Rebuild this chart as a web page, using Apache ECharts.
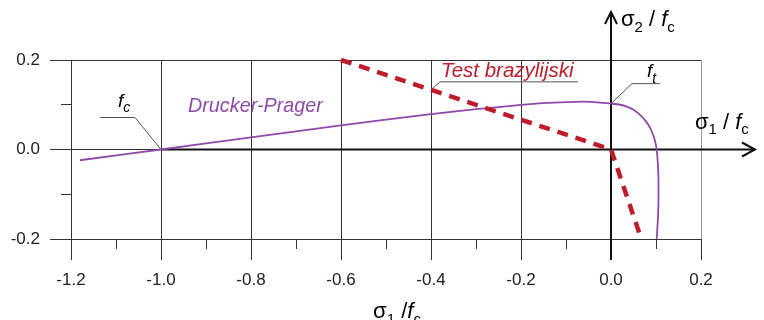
<!DOCTYPE html>
<html>
<head>
<meta charset="utf-8">
<script src="https://cdn.jsdelivr.net/npm/echarts@6/dist/echarts.min.js"></script>
<style>
  html, body { margin: 0; padding: 0; background: #fff; }
  #chart { width: 764px; height: 320px; }
</style>
</head>
<body>
<div id="chart"></div>
<script>
// Drucker–Prager failure envelope (σ1/fc, σ2/fc)
const dpSigma1 = [-1.18, -1.0, -0.8, -0.6, -0.4, -0.3, -0.2, -0.15, -0.1, -0.06, -0.03, 0.0,
                  0.02, 0.035, 0.05, 0.064, 0.076, 0.086, 0.093, 0.098, 0.1015,
                  0.104, 0.1055, 0.1055, 0.1045, 0.1015];
const dpSigma2 = [-0.024, 0.0, 0.027, 0.054, 0.079, 0.090, 0.0995, 0.1035, 0.106, 0.1068, 0.1055, 0.1025,
                  0.1, 0.096, 0.089, 0.078, 0.065, 0.05, 0.034, 0.018, 0.0,
                  -0.03, -0.07, -0.11, -0.15, -0.2];
// Brazilian (splitting) test stress path
const brSigma1 = [-0.6, 0.0, 0.064];
const brSigma2 = [0.2, 0.0, -0.19];
// Axis ranges and tick steps
const xRange = [-1.2, 0.2];
const yRange = [-0.2, 0.2];
const majorStep = 0.2;
const minorStep = 0.1;

const FONT = "'Liberation Sans', Arial, sans-serif";
const INK = '#222';
const GRID = '#333';
const PURPLE = '#8e4aa8';
const RED = '#bd1c2b';

const zip = (a, b) => a.map((v, i) => [v, b[i]]);

const chart = echarts.init(document.getElementById('chart'), null, { renderer: 'canvas' });

const tickFmt = v => (Math.abs(v) < 1e-9 ? 0 : v).toFixed(1);

chart.setOption({
  animation: false,
  backgroundColor: '#fff',
  grid: { left: 71, right: 63, top: 60, bottom: 81, containLabel: false },
  xAxis: [
    {
      type: 'value', min: xRange[0], max: xRange[1], interval: majorStep,
      axisLine: { show: false, onZero: false },
      axisTick: { show: true, length: 21, lineStyle: { color: GRID, width: 1 } },
      axisLabel: { margin: 33, fontSize: 17, color: INK, fontFamily: FONT, formatter: tickFmt },
      splitLine: { show: true, lineStyle: { color: [GRID, GRID, GRID, GRID, GRID, GRID, GRID, '#999'], width: 1 } }
    },
    {
      type: 'value', min: xRange[0], max: xRange[1], interval: minorStep,
      position: 'bottom',
      axisLine: { show: false, onZero: false },
      axisTick: { show: true, length: 10, lineStyle: { color: GRID, width: 1 } },
      axisLabel: { show: false },
      splitLine: { show: false }
    }
  ],
  yAxis: [
    {
      type: 'value', min: yRange[0], max: yRange[1], interval: majorStep,
      position: 'left',
      axisLine: { show: false, onZero: false },
      axisTick: { show: true, length: 21, lineStyle: { color: GRID, width: 1 } },
      axisLabel: { margin: 31, fontSize: 17, color: INK, fontFamily: FONT, formatter: tickFmt },
      splitLine: { show: true, lineStyle: { color: GRID, width: 1 } }
    },
    {
      type: 'value', min: yRange[0], max: yRange[1], interval: minorStep,
      position: 'left',
      axisLine: { show: false, onZero: false },
      axisTick: { show: true, length: 10, lineStyle: { color: GRID, width: 1 } },
      axisLabel: { show: false },
      splitLine: { show: false }
    }
  ],
  series: [
    {
      name: 'Drucker-Prager', type: 'line', xAxisIndex: 0, yAxisIndex: 0,
      data: zip(dpSigma1, dpSigma2), showSymbol: false, smooth: 0.25, clip: false,
      lineStyle: { color: PURPLE, width: 1.8 }, z: 4, silent: true
    },
    {
      name: 'Test brazylijski', type: 'line', xAxisIndex: 0, yAxisIndex: 0,
      data: zip(brSigma1, brSigma2), showSymbol: false, clip: false,
      lineStyle: { color: RED, width: 4.5, type: [11, 8], cap: 'butt' }, z: 5, silent: true
    }
  ]
});

// Arrowed coordinate axes, axis titles and callouts, anchored to data coordinates
function decorate() {
  const p = (x, y) => chart.convertToPixel({ gridIndex: 0 }, [x, y]);
  const origin = p(0, 0);
  const leftEnd = p(-1.0, 0);
  const top = p(0, yRange[1]);
  const bottom = p(0, yRange[0]);
  const xTip = [p(xRange[1], 0)[0] + 54, origin[1]];
  const yTip = [origin[0], top[1] - 48];
  const axisStyle = { stroke: '#111', lineWidth: 2, fill: null };
  const leaderStyle = { stroke: '#555', lineWidth: 1, fill: null };

  const sub = { fontSize: 15, fontFamily: FONT, color: INK, lineHeight: 15, padding: [11, 0, 0, 0], verticalAlign: 'top' };
  const main = { fontSize: 22, fontFamily: FONT, color: INK, lineHeight: 22, verticalAlign: 'top' };
  const ital = Object.assign({}, main, { fontStyle: 'italic' });
  const richAxis = { s: main, i: ital, sub: sub };

  const calloutMain = { fontSize: 19, fontFamily: FONT, color: INK, fontStyle: 'italic', lineHeight: 19, verticalAlign: 'top' };
  const calloutSub = { fontSize: 14, fontFamily: FONT, color: INK, fontStyle: 'italic', lineHeight: 14, padding: [9, 0, 0, 0], verticalAlign: 'top' };

  const fcAnchor = leftEnd;
  const ftAnchor = p(0, 0.1025);
  const brAnchor = p(-0.4, 0.4 / 3);

  const g = [
    // σ1 axis with arrow
    { type: 'polyline', z: 3, shape: { points: [leftEnd, xTip] }, style: axisStyle },
    { type: 'polyline', z: 3, shape: { points: [[xTip[0] - 13, xTip[1] - 7], xTip, [xTip[0] - 13, xTip[1] + 7]] }, style: axisStyle },
    // σ2 axis with arrow
    { type: 'polyline', z: 3, shape: { points: [[origin[0], bottom[1] + 21], yTip] }, style: axisStyle },
    { type: 'polyline', z: 3, shape: { points: [[yTip[0] - 6, yTip[1] + 12], yTip, [yTip[0] + 6, yTip[1] + 12]] }, style: axisStyle },
    // axis titles
    { type: 'text', z: 6, x: origin[0] + 10, y: yTip[1] - 3,
      style: { text: '{s|σ}{sub|2}{s| / }{i|f}{sub|c}', rich: richAxis, verticalAlign: 'top' } },
    { type: 'text', z: 6, x: xTip[0] - 60, y: origin[1] - 38,
      style: { text: '{s|σ}{sub|1}{s| / }{i|f}{sub|c}', rich: richAxis, verticalAlign: 'top' } },
    { type: 'text', z: 6, x: (p(xRange[0], 0)[0] + p(xRange[1], 0)[0]) / 2 + 11, y: bottom[1] + 62,
      style: { text: '{s|σ}{sub|1}{s| /}{i|f}{sub|c}', rich: richAxis, align: 'center', verticalAlign: 'top' } },
    // f_c callout
    { type: 'polyline', z: 3, shape: { points: [[fcAnchor[0] - 61, fcAnchor[1] - 32], [fcAnchor[0] - 26, fcAnchor[1] - 32], fcAnchor] }, style: leaderStyle },
    { type: 'text', z: 6, x: fcAnchor[0] - 43, y: fcAnchor[1] - 57,
      style: { text: '{m|f}{s|c}', rich: { m: calloutMain, s: calloutSub } } },
    // f_t callout
    { type: 'polyline', z: 3, shape: { points: [[ftAnchor[0] + 49, ftAnchor[1] - 20], [ftAnchor[0] + 21, ftAnchor[1] - 20], ftAnchor] }, style: leaderStyle },
    { type: 'text', z: 6, x: ftAnchor[0] + 36, y: ftAnchor[1] - 41,
      style: { text: '{m|f}{s|t}', rich: { m: calloutMain, s: calloutSub } } },
    // series labels
    { type: 'text', z: 6, x: 188, y: 106,
      style: { text: 'Drucker-Prager', fontSize: 19.8, fontStyle: 'italic', fontFamily: FONT, fill: PURPLE, verticalAlign: 'middle' } },
    { type: 'polyline', z: 3, shape: { points: [[brAnchor[0] + 147, brAnchor[1] - 8], [brAnchor[0] + 9, brAnchor[1] - 8], brAnchor] }, style: leaderStyle },
    { type: 'text', z: 6, x: brAnchor[0] + 10, y: brAnchor[1] - 19,
      style: { text: 'Test brazylijski', fontSize: 20.5, fontStyle: 'italic', fontFamily: FONT, fill: RED, verticalAlign: 'middle' } }
  ];
  chart.setOption({ graphic: g });
}
decorate();
</script>
</body>
</html>
